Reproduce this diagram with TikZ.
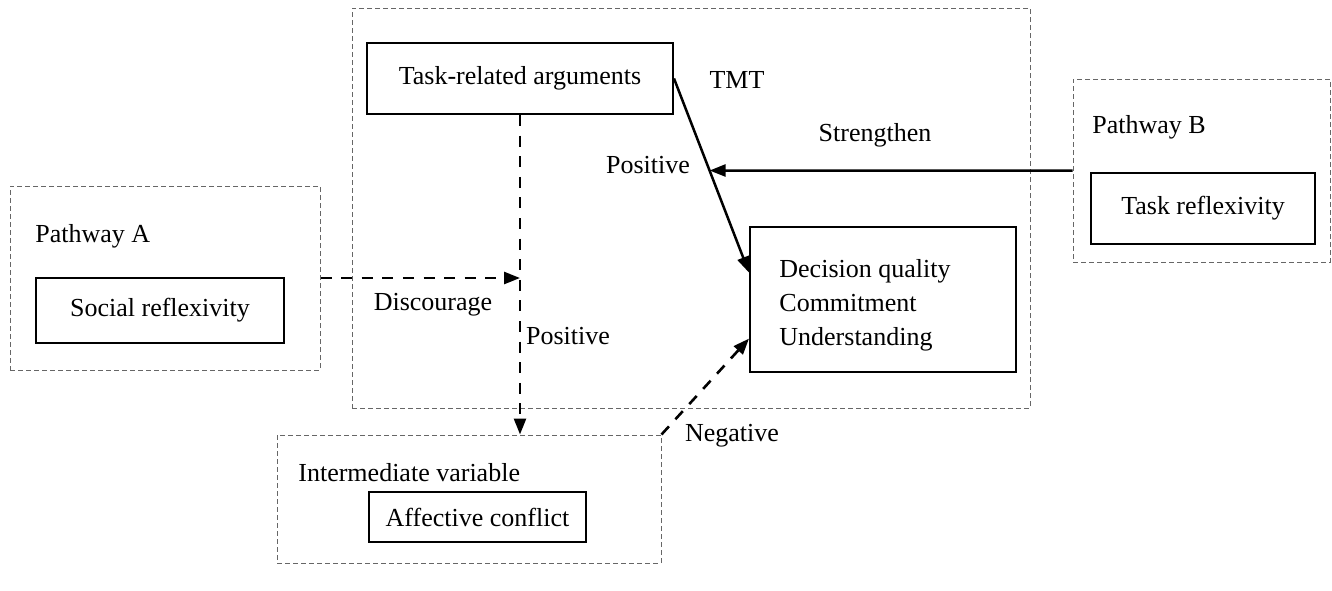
\documentclass[tikz,border=0pt]{standalone}
\usepackage{fontspec}
\setmainfont{Liberation Serif}
\usetikzlibrary{arrows.meta,calc}
\begin{document}
\begin{tikzpicture}[x=0.5pt,y=-0.5pt,
  every node/.style={font=\fontsize{13}{17}\selectfont},
  groupbox/.style={draw=black!60,line width=0.5pt,dash pattern=on 2.5pt off 1.5pt,inner sep=0pt},
  itembox/.style={draw=black,line width=1pt,inner sep=0pt},
  lbl/.style={inner sep=0pt},
  solidarrow/.style={line width=1.25pt,-{Triangle[length=8pt,width=6pt]}},
  dasharrow/.style={line width=1.3pt,dash pattern=on 5.5pt off 4.8pt,-{Triangle[length=8pt,width=6pt]}}]
\useasboundingbox (0,0) rectangle (1332,590);
% group boxes
\node[groupbox,minimum width=339pt,minimum height=200pt] (tmt) at (691,208) {};
\node[groupbox,minimum width=128.5pt,minimum height=91.5pt] (pathB) at (1201.5,170.5) {};
\node[groupbox,minimum width=155pt,minimum height=92pt] (pathA) at (165,278) {};
\node[groupbox,minimum width=192pt,minimum height=64pt] (inter) at (469,499) {};
% item boxes
\node[itembox,minimum width=153pt,minimum height=35.5pt] (task) at (520,78.5) {Task-related arguments};
\node[itembox,minimum width=112pt,minimum height=35.5pt] (taskrefl) at (1203,208.5) {Task reflexivity};
\node[itembox,minimum width=124pt,minimum height=32.5pt] (social) at (160,310.5) {Social reflexivity};
\node[itembox,minimum width=133pt,minimum height=72.5pt] (decision) at (883,299.5) {};
\node[lbl,anchor=west,align=left] (dtext) at (779,305) {Decision quality\\Commitment\\Understanding};
\node[itembox,minimum width=108.5pt,minimum height=25pt] (affect) at (477.5,517) {Affective conflict};
% labels
\node[lbl] (ltmt) at (737,80) {TMT};
\node[lbl] (lstr) at (875,135) {Strengthen};
\node[lbl] (lpos1) at (648,165) {Positive};
\node[lbl] (ldis) at (433,305) {Discourage};
\node[lbl] (lpos2) at (568,336) {Positive};
\node[lbl] (lneg) at (732,436) {Negative};
\node[lbl,anchor=west] (lpa) at (35,236) {Pathway A};
\node[lbl,anchor=west] (lpb) at (1092,127) {Pathway B};
\node[lbl,anchor=west] (liv) at (298,473) {Intermediate variable};
% coordinates
\coordinate (j) at (task.south |- pathA.east);
\coordinate (dq) at ($(decision.north west)!0.317!(decision.south west)$);
\coordinate (dn) at ($(decision.north west)!0.766!(decision.south west)$);
\coordinate (h) at (pathB.west -| tmt.west);
\coordinate (s) at (intersection of task.east--dq and pathB.west--h);
% connectors
\draw[dasharrow] (task.south) -- (task.south |- inter.north);
\draw[dasharrow] (pathA.east) -- (j);
\draw[solidarrow] (task.east) -- (dq);
\draw[solidarrow] (pathB.west) -- (s);
\draw[dasharrow] (inter.north east) -- (dn);
\end{tikzpicture}
\end{document}
